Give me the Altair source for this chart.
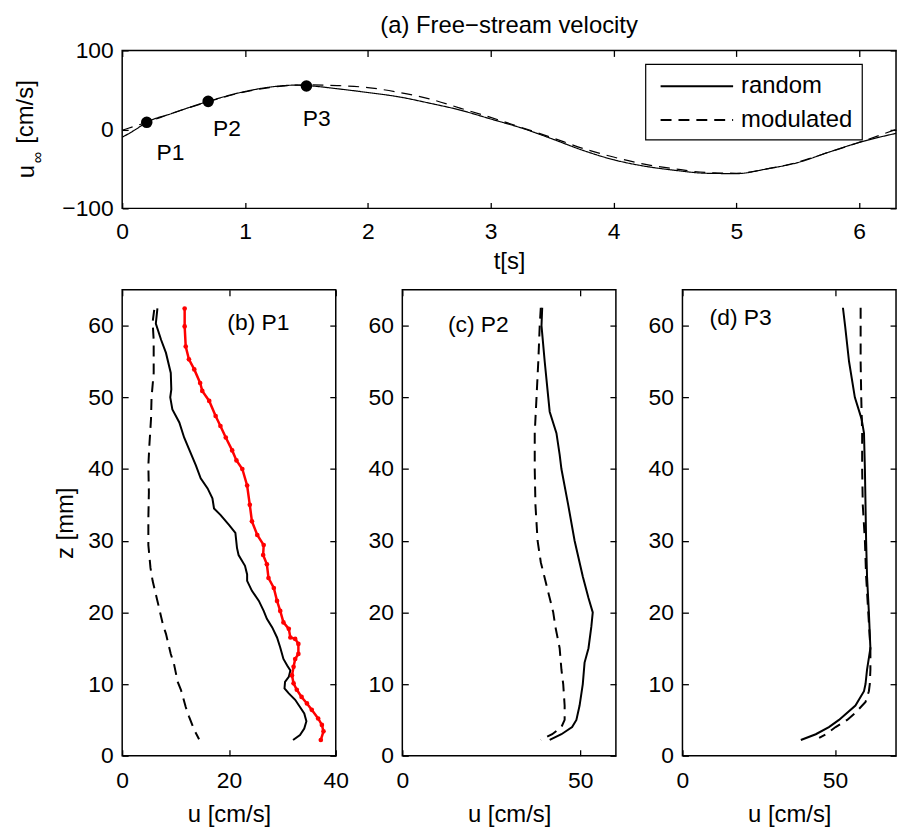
import altair as alt
import pandas as pd

FONT = "Liberation Sans"
FS = 23      # tick labels / annotations
FT = 24      # axis titles and chart title

# ---------------- (a) free-stream velocity ----------------
series_names = ["random", "modulated"]
t_values = [0.0, 0.1, 0.2, 0.4, 0.7, 1.0, 1.2, 1.4, 1.5, 1.75, 2.0, 2.25, 2.5, 2.75,
            3.0, 3.25, 3.5, 3.75, 4.0, 4.25, 4.5, 4.75, 5.0, 5.25, 5.5, 5.75, 6.0, 6.3]
u_random = [-10, -1, 9, 20, 35.5, 48, 53.5, 56, 55.5, 51.5, 46.7, 41.3, 33.3, 24.5,
            13.2, 1.8, -12, -26.5, -38.4, -46.5, -51.8, -55.5, -56, -50, -42, -29, -16.5, -5]
u_modulated = [-1, 4, 9, 20, 35, 47.5, 53, 56, 56.5, 55.5, 53, 47, 38.7, 27, 15.2,
               2.5, -10.5, -24, -35, -44, -50, -54.5, -55.5, -50, -41.5, -29, -16.5, 0]

point_t = [0.2, 0.7, 1.5]
point_u = [9, 35.5, 55]
point_labels = ["P1", "P2", "P3"]
point_label_t = [0.28, 0.74, 1.47]
point_label_u = [-30, 0.5, 12.5]

t_ticks = [0, 1, 2, 3, 4, 5, 6]
u_inf_ticks = [-100, 0, 100]
t_domain = [0, 6.3]
u_inf_domain = [-100, 100]

# ---------------- (b) P1 ----------------
b_random_z = [62.4, 60.3, 58.0, 56.2, 53.4, 51.1, 50.0, 48.3, 46.5, 44.4, 42.8, 40.5, 38.7,
              37.3, 35.9, 34.5, 33.6, 32.2, 31.1, 29.0, 28.0, 26.5, 25.3, 24.4, 23.0, 21.6,
              20.2, 19.1, 17.9, 16.5, 15.1, 13.5, 12.6, 11.9, 11.0, 10.3, 9.4, 8.7, 7.8,
              6.8, 5.9, 4.8, 3.8, 2.9, 2.2]
b_random_u = [6.6, 6.3, 7.3, 8.2, 9.1, 9.2, 9.0, 9.4, 10.7, 11.6, 12.5, 13.8, 14.7,
              16.0, 16.9, 17.2, 18.4, 20.0, 21.2, 21.5, 21.8, 23.0, 23.4, 23.4, 24.3, 25.6,
              26.5, 27.1, 28.1, 29.0, 29.6, 30.2, 30.9, 31.5, 31.2, 30.5, 30.4, 31.2, 32.4,
              33.3, 34.1, 34.5, 34.1, 33.3, 32.0]
b_mod_z = [62.2, 60.5, 58.0, 53.4, 50.0, 47.0, 43.4, 40.5, 36.8, 33.1, 29.4, 26.2, 24.4,
           21.6, 18.4, 17.0, 14.2, 12.8, 10.3, 9.2, 6.8, 5.5, 3.6, 2.3]
b_mod_u = [6.0, 5.7, 5.9, 5.9, 5.5, 5.4, 5.1, 4.9, 5.0, 4.9, 4.9, 5.3, 5.7,
           6.6, 7.6, 8.2, 9.1, 9.7, 10.4, 11.0, 11.9, 12.5, 13.5, 14.4]
b_red_z = [62.4, 59.9, 57.1, 55.3, 53.9, 52.0, 50.9, 49.5, 47.4, 46.0, 44.4, 42.6, 41.2,
           40.0, 37.7, 35.0, 32.7, 30.8, 29.4, 28.0, 26.7, 24.8, 23.4, 21.6, 20.2, 18.6,
           17.7, 16.5, 16.3, 15.6, 14.2, 13.5, 12.4, 11.2, 10.1, 9.2, 8.2, 7.3, 6.4, 5.2,
           4.3, 3.4, 2.2]
b_red_u = [11.7, 11.7, 11.9, 12.5, 13.5, 14.6, 15.0, 16.3, 17.5, 18.4, 19.4, 20.6, 21.4,
           22.5, 23.4, 23.9, 24.3, 25.3, 26.5, 26.4, 27.1, 27.4, 28.4, 29.0, 29.6, 30.2,
           31.2, 31.5, 32.4, 33.0, 33.0, 32.4, 32.1, 31.8, 32.1, 32.7, 33.6, 34.6, 35.5, 36.7,
           37.4, 37.7, 37.2]

# ---------------- (c) P2 ----------------
c_random_z = [62.5, 60, 55, 50, 48, 45, 42, 40, 35, 30, 25, 22, 20, 18, 15, 13, 10, 7, 5, 4, 3, 2.2]
c_random_u = [39.3, 39.1, 40.0, 41.0, 41.4, 43.3, 44.2, 44.7, 46.6, 48.4, 50.7, 52.3, 53.5,
              53.1, 52.3, 51.2, 50.7, 49.8, 48.9, 47.7, 44.7, 41.4]
c_mod_z = [62.5, 60, 55, 50, 45, 40, 35, 30, 27, 25, 22, 20, 18, 15, 12, 10, 7, 5, 4, 3, 2.2]
c_mod_u = [38.9, 38.6, 38.2, 37.7, 37.2, 37.2, 37.4, 38.0, 38.9, 39.9, 41.4, 42.4, 43.0,
           44.2, 44.7, 45.2, 45.6, 45.6, 44.7, 42.1, 38.9]

# ---------------- (d) P3 ----------------
d_random_z = [62.5, 60, 55, 50, 47, 45, 40, 35, 30, 25, 20, 15, 12, 10, 9, 7, 5, 4, 3, 2.2]
d_random_u = [52.6, 53.3, 54.6, 56.5, 58.7, 59.5, 59.8, 60.0, 60.2, 60.5, 61.1, 61.6, 60.5,
              60.0, 59.5, 56.7, 51.3, 48.0, 43.7, 38.8]
d_mod_z = [62.5, 60, 55, 50, 45, 40, 35, 30, 25, 20, 15, 12, 10, 9, 7.5, 6, 5, 4, 3, 2.5]
d_mod_u = [58.4, 58.4, 58.4, 58.6, 58.9, 58.9, 59.1, 59.8, 60.2, 60.9, 61.6, 61.6, 61.4,
           61.1, 60.0, 56.7, 54.0, 50.2, 47.0, 44.8]

panel_titles = ["(b) P1", "(c) P2", "(d) P3"]
panel_title_u = [19.7, 12.8, 8.9]
panel_title_z = [60.4, 60.1, 61.0]
z_domain = [0, 65]
z_ticks = [0, 10, 20, 30, 40, 50, 60]
b_domain, b_ticks = [0, 40], [0, 20, 40]
c_domain, c_ticks = [0, 60], [0, 50]
d_domain, d_ticks = [0, 70], [0, 50]

DASH = [11, 7]


def axis(orient, values, labels=True, title=None, label_padding=10, title_padding=8):
    kw = dict(orient=orient, values=values, offset=-6, tickSize=6, domain=False,
              labels=labels, labelFlush=False, labelOverlap=False, format="d",
              tickColor="black", tickWidth=1.3, grid=False, labelPadding=label_padding,
              titlePadding=title_padding)
    if title is not None:
        kw["title"] = title
    return alt.Axis(**kw)


# ---------------- top chart ----------------
top_rows = []
for name, vals in zip(series_names, [u_random, u_modulated]):
    for i, (t, u) in enumerate(zip(t_values, vals)):
        top_rows.append({"t": t, "u": u, "series": name, "i": i})
df_top = pd.DataFrame(top_rows)
df_pts = pd.DataFrame({"t": point_t, "u": point_u, "label": point_labels,
                       "lt": point_label_t, "lu": point_label_u})

xs_top = alt.Scale(domain=t_domain, nice=False, zero=False)
ys_top = alt.Scale(domain=u_inf_domain, nice=False, zero=False)

top_lines = alt.Chart(df_top).mark_line(color="black", strokeWidth=1.2, interpolate="monotone").encode(
    x=alt.X("t:Q", scale=xs_top, title="t[s]",
            axis=axis("bottom", t_ticks, title="t[s]", label_padding=12, title_padding=7)),
    y=alt.Y("u:Q", scale=ys_top, title=None, axis=axis("left", u_inf_ticks, label_padding=9)),
    strokeDash=alt.StrokeDash(
        "series:N",
        scale=alt.Scale(domain=series_names, range=[[1, 0], DASH]),
        legend=None,
    ),
    order="i:Q",
)

top_markers = alt.Chart(df_pts).mark_circle(size=135, color="black", opacity=1).encode(
    x=alt.X("t:Q", scale=xs_top, title=None, axis=axis("top", t_ticks, labels=False)),
    y=alt.Y("u:Q", scale=ys_top, title=None, axis=axis("right", u_inf_ticks, labels=False)),
)

top_labels = alt.Chart(df_pts).mark_text(align="left", baseline="middle", font=FONT,
                                         fontSize=FS, color="black").encode(
    x=alt.X("lt:Q", scale=xs_top, axis=None),
    y=alt.Y("lu:Q", scale=ys_top, axis=None),
    text="label:N",
)

one = pd.DataFrame({"k": [0]})
ylab_u = alt.Chart(one).mark_text(text="u", angle=270, align="center", baseline="middle",
                                  font=FONT, fontSize=FT, color="black").encode(
    x=alt.value(-96), y=alt.value(122))
ylab_inf = alt.Chart(one).mark_text(text="∞", angle=270, align="center", baseline="middle",
                                    font=FONT, fontSize=16, color="black").encode(
    x=alt.value(-85), y=alt.value(108))
ylab_unit = alt.Chart(one).mark_text(text="[cm/s]", angle=270, align="center", baseline="middle",
                                     font=FONT, fontSize=FT, color="black").encode(
    x=alt.value(-97), y=alt.value(62))

# legend box (drawn in the plot's pixel frame)
leg_box = alt.Chart(one).mark_rect(fill="white", stroke="black", strokeWidth=1.2).encode(
    x=alt.value(527), x2=alt.value(745), y=alt.value(14), y2=alt.value(90))
leg_solid = alt.Chart(one).mark_rule(color="black", strokeWidth=2).encode(
    x=alt.value(542), x2=alt.value(615), y=alt.value(36))
leg_dash = alt.Chart(one).mark_rule(color="black", strokeWidth=2, strokeDash=DASH).encode(
    x=alt.value(542), x2=alt.value(615), y=alt.value(70))
leg_t1 = alt.Chart(one).mark_text(text=series_names[0], align="left", baseline="middle",
                                  font=FONT, fontSize=FT, color="black").encode(
    x=alt.value(623), y=alt.value(36))
leg_t2 = alt.Chart(one).mark_text(text=series_names[1], align="left", baseline="middle",
                                  font=FONT, fontSize=FT, color="black").encode(
    x=alt.value(623), y=alt.value(70))

top = alt.layer(top_lines, top_markers, top_labels, ylab_u, ylab_inf, ylab_unit,
                leg_box, leg_solid, leg_dash, leg_t1, leg_t2).resolve_axis(
    x="independent", y="independent"
).properties(
    width=779, height=159,
    title=alt.Title("(a) Free−stream velocity", frame="group", offset=2,
                    font=FONT, fontSize=FT, fontWeight="normal", color="black"),
)


# ---------------- profile panels ----------------
def panel(rz, ru, mz, mu, xdom, xticks, label, lu, lz, ytitle=None, red=None):
    xs = alt.Scale(domain=xdom, nice=False, zero=False)
    zs = alt.Scale(domain=z_domain, nice=False, zero=False)
    dfr = pd.DataFrame({"u": ru, "z": rz, "i": range(len(rz))})
    dfm = pd.DataFrame({"u": mu, "z": mz, "i": range(len(mz))})
    left_kw = dict(label_padding=9, title_padding=10)
    if ytitle is not None:
        left_kw["title"] = ytitle
    layers = [
        alt.Chart(dfr).mark_line(color="black", strokeWidth=2).encode(
            x=alt.X("u:Q", scale=xs, title="u [cm/s]",
                    axis=axis("bottom", xticks, title="u [cm/s]", label_padding=14, title_padding=10)),
            y=alt.Y("z:Q", scale=zs, title=ytitle if ytitle else None,
                    axis=axis("left", z_ticks, **left_kw)),
            order="i:Q",
        ),
        alt.Chart(dfm).mark_line(color="black", strokeWidth=2, strokeDash=DASH).encode(
            x=alt.X("u:Q", scale=xs, title=None, axis=axis("top", xticks, labels=False)),
            y=alt.Y("z:Q", scale=zs, title=None, axis=axis("right", z_ticks, labels=False)),
            order="i:Q",
        ),
    ]
    if red is not None:
        dfred = pd.DataFrame({"u": red[1], "z": red[0], "i": range(len(red[0]))})
        layers.append(alt.Chart(dfred).mark_line(color="#ff0000", strokeWidth=2.5).encode(
            x=alt.X("u:Q", scale=xs, axis=None), y=alt.Y("z:Q", scale=zs, axis=None), order="i:Q"))
        layers.append(alt.Chart(dfred).mark_circle(color="#ff0000", size=22, opacity=1).encode(
            x=alt.X("u:Q", scale=xs, axis=None), y=alt.Y("z:Q", scale=zs, axis=None)))
    dfl = pd.DataFrame({"u": [lu], "z": [lz], "t": [label]})
    layers.append(alt.Chart(dfl).mark_text(align="left", baseline="middle", font=FONT,
                                           fontSize=FS, color="black").encode(
        x=alt.X("u:Q", scale=xs, axis=None), y=alt.Y("z:Q", scale=zs, axis=None), text="t:N"))
    return alt.layer(*layers).resolve_axis(x="independent", y="independent").properties(
        width=215, height=469)


pb = panel(b_random_z, b_random_u, b_mod_z, b_mod_u, b_domain, b_ticks,
           panel_titles[0], panel_title_u[0], panel_title_z[0], ytitle="z [mm]",
           red=(b_red_z, b_red_u))
pc = panel(c_random_z, c_random_u, c_mod_z, c_mod_u, c_domain, c_ticks,
           panel_titles[1], panel_title_u[1], panel_title_z[1])
pd_ = panel(d_random_z, d_random_u, d_mod_z, d_mod_u, d_domain, d_ticks,
            panel_titles[2], panel_title_u[2], panel_title_z[2])

row = alt.hconcat(pb, pc, pd_, spacing=67, bounds="flush")

chart = alt.vconcat(top, row, spacing=82, bounds="flush").properties(
    padding={"left": 13, "top": 10, "right": 0, "bottom": 0},
    background="white",
).configure_view(
    stroke="black", strokeWidth=1.5
).configure_axis(
    labelFont=FONT, labelFontSize=FS, labelColor="black",
    titleFont=FONT, titleFontSize=FT, titleFontWeight="normal", titleColor="black",
)

chart.save("out.html", embed_options={"renderer": "svg", "actions": False})
